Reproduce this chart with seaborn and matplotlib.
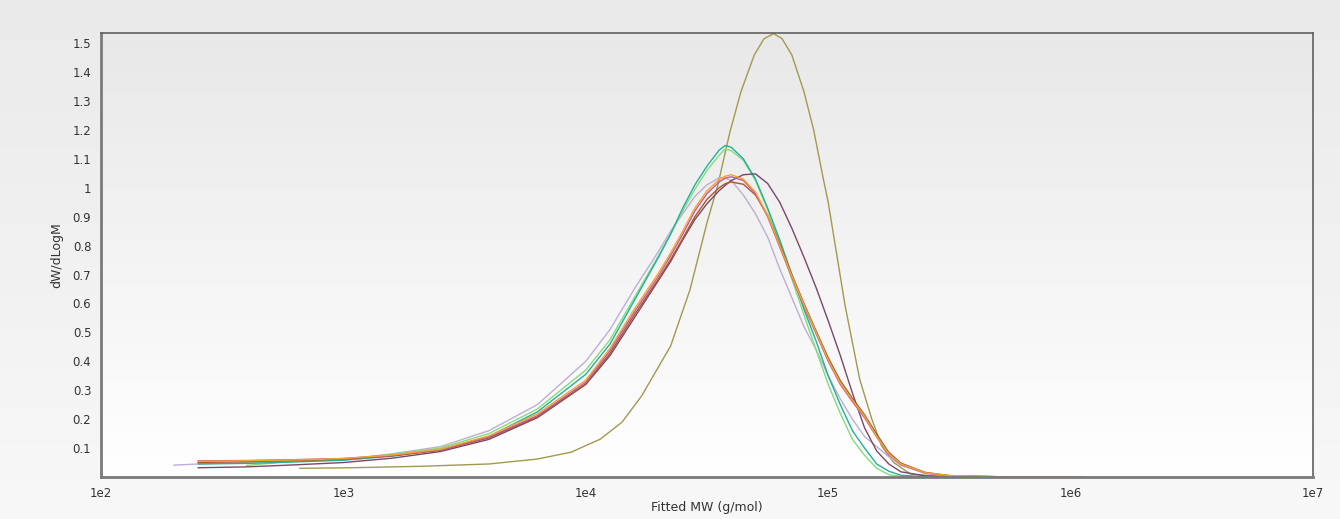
import numpy as np
import pandas as pd
import matplotlib
matplotlib.use('Agg')
import matplotlib.pyplot as plt
import matplotlib.ticker as mticker
from matplotlib.colors import LinearSegmentedColormap
import seaborn as sns

# log10(MW) grid shared by the main cluster of samples
log_mw = [2.3, 2.4, 2.6, 2.8, 3.0, 3.2, 3.4, 3.6, 3.8, 4.0, 4.1, 4.2, 4.3, 4.35,
          4.4, 4.45, 4.5, 4.55, 4.575, 4.6, 4.65, 4.7, 4.75, 4.8, 4.85, 4.9, 4.95, 5.0,
          5.05, 5.1, 5.15, 5.2, 5.25, 5.3, 5.4, 5.5, 5.7, 6.0, 6.05]

lavender = [0.041, 0.045, 0.050, 0.055, 0.060, 0.080, 0.105, 0.160, 0.250, 0.400, 0.510,
            0.650, 0.780, 0.850, 0.910, 0.970, 1.010, 1.034, 1.033, 1.025, 0.975, 0.910,
            0.830, 0.720, 0.620, 0.520, 0.440, 0.350, 0.270, 0.200, 0.140, 0.105, 0.070,
            0.040, 0.012, 0.004, 0.001, 0.0, np.nan]
teal = [np.nan, 0.045, 0.047, 0.052, 0.058, 0.072, 0.095, 0.140, 0.225, 0.355, 0.460,
        0.610, 0.760, 0.840, 0.930, 1.010, 1.075, 1.130, 1.146, 1.140, 1.100, 1.030,
        0.930, 0.820, 0.700, 0.580, 0.470, 0.350, 0.250, 0.160, 0.100, 0.045, 0.020,
        0.006, 0.001, 0.0, np.nan, np.nan, np.nan]
green = [np.nan, np.nan, 0.040, 0.055, 0.062, 0.078, 0.100, 0.150, 0.235, 0.370, 0.475,
         0.620, 0.765, 0.840, 0.920, 0.995, 1.060, 1.112, 1.134, 1.128, 1.095, 1.025,
         0.925, 0.810, 0.685, 0.560, 0.440, 0.320, 0.220, 0.130, 0.075, 0.030, 0.008,
         0.002, 0.0, np.nan, np.nan, np.nan, np.nan]
plum = [np.nan, 0.032, 0.035, 0.042, 0.050, 0.065, 0.088, 0.130, 0.205, 0.320, 0.420,
        0.550, 0.680, 0.745, 0.820, 0.890, 0.945, 0.990, 1.008, 1.025, 1.045, 1.048,
        1.015, 0.950, 0.860, 0.760, 0.655, 0.540, 0.420, 0.290, 0.170, 0.090, 0.045,
        0.018, 0.004, 0.001, 0.0, 0.0, 0.0]
orange = [np.nan, 0.054, 0.056, 0.059, 0.064, 0.076, 0.096, 0.142, 0.218, 0.335, 0.445,
          0.580, 0.705, 0.775, 0.850, 0.930, 0.990, 1.028, 1.040, 1.045, 1.030, 0.985,
          0.905, 0.800, 0.695, 0.595, 0.500, 0.405, 0.325, 0.265, 0.210, 0.140, 0.080,
          0.045, 0.015, 0.005, 0.001, 0.0, 0.0]
magenta = [np.nan, 0.056, 0.057, 0.060, 0.064, 0.075, 0.094, 0.138, 0.212, 0.328, 0.437,
           0.570, 0.695, 0.765, 0.840, 0.920, 0.980, 1.020, 1.033, 1.038, 1.025, 0.980,
           0.900, 0.795, 0.690, 0.590, 0.495, 0.400, 0.320, 0.260, 0.205, 0.138, 0.078,
           0.043, 0.014, 0.004, 0.001, 0.0, np.nan]
brown = [np.nan, 0.050, 0.053, 0.057, 0.062, 0.073, 0.092, 0.135, 0.208, 0.322, 0.428,
         0.560, 0.685, 0.752, 0.825, 0.900, 0.960, 1.000, 1.014, 1.020, 1.012, 0.975,
         0.905, 0.805, 0.700, 0.600, 0.505, 0.412, 0.333, 0.272, 0.215, 0.148, 0.085,
         0.048, 0.016, 0.005, 0.001, 0.0, np.nan]

# the high-MW sample has its own grid
log_mw_olive = [2.82, 3.03, 3.32, 3.6, 3.8, 3.94, 4.06, 4.15, 4.23, 4.35, 4.43, 4.5,
                4.545, 4.57, 4.595, 4.64, 4.695, 4.735, 4.775, 4.81, 4.85, 4.9, 4.94,
                4.98, 5.0, 5.07, 5.13, 5.18, 5.22, 5.27, 5.34, 5.48, 6.0]
olive = [0.030, 0.032, 0.037, 0.045, 0.062, 0.086, 0.131, 0.190, 0.280, 0.453, 0.648,
         0.879, 1.010, 1.103, 1.194, 1.332, 1.459, 1.515, 1.533, 1.515, 1.459, 1.332,
         1.200, 1.030, 0.950, 0.591, 0.338, 0.200, 0.108, 0.050, 0.010, 0.001, 0.0]

series = {'lavender': lavender, 'teal': teal, 'green': green, 'plum': plum,
          'orange': orange, 'magenta': magenta, 'brown': brown}
colors = {'lavender': '#bdaed4', 'teal': '#22b09c', 'green': '#84dc7c', 'plum': '#7a4868',
          'orange': '#f3a52a', 'magenta': '#c458a4', 'brown': '#a8582c', 'olive': '#a19a4e'}

frames = []
for name, vals in series.items():
    frames.append(pd.DataFrame({'mw': 10 ** np.array(log_mw), 'dw': vals, 'sample': name}))
frames.append(pd.DataFrame({'mw': 10 ** np.array(log_mw_olive), 'dw': olive, 'sample': 'olive'}))
df = pd.concat(frames, ignore_index=True).dropna()

sns.set_style('white')
plt.rcParams['font.family'] = ['DejaVu Sans']

W, H = 1340, 519
fig = plt.figure(figsize=(W / 100, H / 100), dpi=100)

# outer gradient background
grad = np.linspace(0, 1, 256).reshape(-1, 1)
bg = fig.add_axes([0, 0, 1, 1], zorder=-2)
outer_cmap = LinearSegmentedColormap.from_list('outer', ['#eaeaea', '#f8f8f8'])
bg.imshow(grad, aspect='auto', cmap=outer_cmap, extent=[0, 1, 0, 1])
bg.axis('off')

# plot area gradient
pos = [101 / W, 1 - 477 / H, (1313 - 101) / W, (477 - 33) / H]
inner = fig.add_axes(pos, zorder=-1)
inner_cmap = LinearSegmentedColormap.from_list('inner', ['#e8e8e8', '#ffffff'])
inner.imshow(grad, aspect='auto', cmap=inner_cmap, extent=[0, 1, 0, 1])
inner.axis('off')

ax = fig.add_axes(pos, zorder=1)
ax.set_facecolor('none')
order = ['olive', 'lavender', 'green', 'teal', 'plum', 'brown', 'magenta', 'orange']
sns.lineplot(data=df, x='mw', y='dw', hue='sample', hue_order=order, palette=colors,
             linewidth=1.0, legend=False, ax=ax, estimator=None)

ax.set_xscale('log')
ax.set_xlim(1e2, 1e7)
ax.set_ylim(0, 1.535)
ax.xaxis.set_major_locator(mticker.FixedLocator([1e2, 1e3, 1e4, 1e5, 1e6, 1e7]))
ax.xaxis.set_major_formatter(mticker.FuncFormatter(lambda v, p: '1e%d' % round(np.log10(v))))
ax.xaxis.set_minor_locator(mticker.LogLocator(base=10, subs=np.arange(2, 10)))
ax.xaxis.set_minor_formatter(mticker.NullFormatter())
yt = np.round(np.arange(0.1, 1.55, 0.1), 1)
ax.set_yticks(yt)
ax.set_yticklabels(['%g' % v for v in yt])
ax.yaxis.set_minor_locator(mticker.MultipleLocator(0.02))

ax.tick_params(axis='both', which='major', direction='out', length=4, width=1,
               color='#909090', labelsize=8.5, labelcolor='#333333', pad=3)
ax.tick_params(axis='both', which='minor', direction='out', length=2.5, width=0.8,
               color='#a0a0a0')
ax.tick_params(axis='x', which='major', length=5, pad=2)
for side in ['left', 'bottom']:
    ax.spines[side].set_color('#7a7a7a')
    ax.spines[side].set_linewidth(2.0)
for side in ['top', 'right']:
    ax.spines[side].set_color('#606060')
    ax.spines[side].set_linewidth(1.2)

ax.set_xlabel('Fitted MW (g/mol)', fontsize=9, color='#333333', labelpad=1)
ax.set_ylabel('dW/dLogM', fontsize=9, color='#333333', labelpad=7)

fig.savefig('out.png', dpi=100)
